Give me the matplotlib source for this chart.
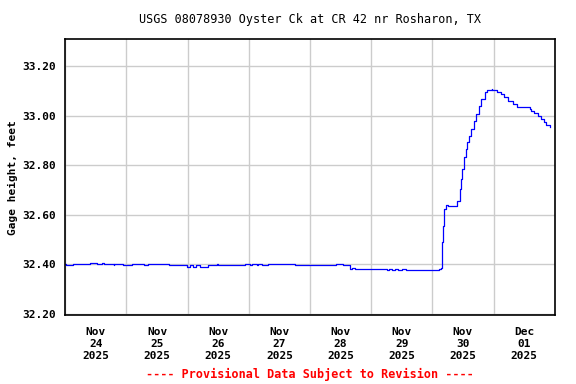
import pandas as pd
import matplotlib
matplotlib.use("Agg")
import matplotlib.pyplot as plt
import matplotlib.dates as mdates

# gage height readings (breakpoints of a step series)
times = ["2025-11-24 00:00", "2025-11-24 00:15", "2025-11-24 03:00", "2025-11-24 09:45",
         "2025-11-24 12:15", "2025-11-24 14:30", "2025-11-24 15:00", "2025-11-24 19:00",
         "2025-11-24 19:15", "2025-11-24 22:30", "2025-11-25 02:00", "2025-11-25 07:00",
         "2025-11-25 08:30", "2025-11-25 16:45", "2025-11-25 23:45", "2025-11-26 01:00",
         "2025-11-26 02:00", "2025-11-26 03:15", "2025-11-26 05:00", "2025-11-26 08:00",
         "2025-11-26 11:30", "2025-11-26 11:45", "2025-11-26 22:30", "2025-11-27 00:30",
         "2025-11-27 01:15", "2025-11-27 03:00", "2025-11-27 03:45", "2025-11-27 05:15",
         "2025-11-27 07:30", "2025-11-27 18:00", "2025-11-28 10:00", "2025-11-28 13:00",
         "2025-11-28 15:45", "2025-11-28 16:30", "2025-11-28 17:45", "2025-11-29 06:15",
         "2025-11-29 07:00", "2025-11-29 08:15", "2025-11-29 09:30", "2025-11-29 10:30",
         "2025-11-29 12:15", "2025-11-29 13:30", "2025-11-30 02:00", "2025-11-30 02:45",
         "2025-11-30 03:30", "2025-11-30 03:45", "2025-11-30 04:15", "2025-11-30 04:45",
         "2025-11-30 05:15", "2025-11-30 06:15", "2025-11-30 09:45", "2025-11-30 10:45",
         "2025-11-30 11:15", "2025-11-30 11:45", "2025-11-30 12:15", "2025-11-30 13:00",
         "2025-11-30 13:30", "2025-11-30 14:30", "2025-11-30 15:15", "2025-11-30 16:15",
         "2025-11-30 17:00", "2025-11-30 18:15", "2025-11-30 19:15", "2025-11-30 20:30",
         "2025-11-30 21:30", "2025-11-30 23:15", "2025-11-30 23:30", "2025-12-01 01:30",
         "2025-12-01 02:45", "2025-12-01 04:00", "2025-12-01 05:30", "2025-12-01 07:30",
         "2025-12-01 09:15", "2025-12-01 14:15", "2025-12-01 14:45", "2025-12-01 16:00",
         "2025-12-01 17:15", "2025-12-01 18:30", "2025-12-01 19:45", "2025-12-01 20:45",
         "2025-12-01 22:00", "2025-12-01 22:15"]
gage = [32.400, 32.395, 32.400, 32.405,
        32.400, 32.405, 32.400, 32.395,
        32.400, 32.395, 32.400, 32.395,
        32.400, 32.395, 32.390, 32.395,
        32.390, 32.395, 32.390, 32.395,
        32.400, 32.395, 32.400, 32.395,
        32.400, 32.395, 32.400, 32.395,
        32.400, 32.395, 32.400, 32.395,
        32.380, 32.385, 32.380, 32.375,
        32.380, 32.375, 32.380, 32.375,
        32.380, 32.375, 32.375, 32.380,
        32.385, 32.490, 32.556, 32.623,
        32.640, 32.635, 32.657, 32.704,
        32.744, 32.785, 32.832, 32.865,
        32.892, 32.919, 32.946, 32.979,
        33.006, 33.040, 33.067, 33.094,
        33.103, 33.107, 33.103, 33.095,
        33.087, 33.074, 33.060, 33.047,
        33.035, 33.025, 33.020, 33.010,
        33.000, 32.986, 32.975, 32.962,
        32.953, 32.953]

day_labels = ["Nov\n24\n2025", "Nov\n25\n2025", "Nov\n26\n2025", "Nov\n27\n2025",
              "Nov\n28\n2025", "Nov\n29\n2025", "Nov\n30\n2025", "Dec\n01\n2025"]
y_ticks = [32.20, 32.40, 32.60, 32.80, 33.00, 33.20]

t = pd.to_datetime(times)
days = pd.date_range("2025-11-24", periods=9, freq="D")
noons = days[:-1] + pd.Timedelta(hours=12)

fig = plt.figure(figsize=(5.76, 3.84), dpi=100)
ax = fig.add_axes([0.1134, 0.1797, 0.8497, 0.718])

ax.plot(t, gage, color="#0000ff", lw=0.9, drawstyle="steps-post")

ax.set_xlim(days[0], days[-1])
ax.set_ylim(32.195, 33.308)

mono = "DejaVu Sans Mono"
ax.set_xticks(noons)
ax.set_xticklabels(day_labels, fontfamily=mono, fontweight="bold", fontsize=8, linespacing=1.25)
ax.set_xticks(days, minor=True)
ax.set_yticks(y_ticks)
ax.set_yticklabels(["%.2f" % v for v in y_ticks], fontfamily=mono, fontweight="bold", fontsize=8)
ax.tick_params(axis="both", which="both", length=0)
ax.tick_params(axis="x", pad=9)
ax.tick_params(axis="y", pad=7)

ax.grid(False, which="major", axis="x")
ax.grid(True, which="minor", axis="x", color="#cccccc", lw=1)
ax.grid(True, which="major", axis="y", color="#cccccc", lw=1)
ax.set_axisbelow(True)
for s in ax.spines.values():
    s.set_linewidth(1.2)

ax.set_ylabel("Gage height, feet", fontfamily=mono, fontweight="bold", fontsize=8, labelpad=3)

fig.text(0.538, 0.948, "USGS 08078930 Oyster Ck at CR 42 nr Rosharon, TX",
         ha="center", va="center", fontfamily=mono, fontsize=8.5)
fig.text(0.538, 0.024, "---- Provisional Data Subject to Revision ----",
         ha="center", va="center", fontfamily=mono, fontweight="bold", fontsize=8.5, color="red")

fig.savefig("out.png", dpi=100)
